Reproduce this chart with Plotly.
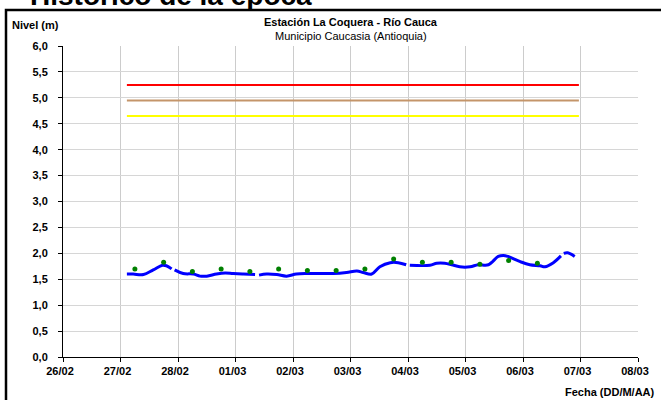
import plotly.graph_objects as go

# nivel observado (m); None = hueco en la serie
nivel_fecha = [
    "2011-02-27 02:40", "2011-02-27 05:15", "2011-02-27 09:35", "2011-02-27 13:40",
    "2011-02-27 17:30", "2011-02-27 19:10", "2011-02-27 21:20", None,
    "2011-02-27 22:35", "2011-02-28 02:10", "2011-02-28 06:30", "2011-02-28 09:10",
    "2011-02-28 12:00", "2011-02-28 16:05", "2011-02-28 19:40", "2011-02-28 23:00",
    "2011-03-01 03:20", "2011-03-01 08:10", None,
    "2011-03-01 09:50", "2011-03-01 13:00", "2011-03-01 17:15", "2011-03-01 21:20",
    "2011-03-02 01:25", "2011-03-02 05:45", "2011-03-02 11:15", "2011-03-02 16:50",
    "2011-03-02 22:20", "2011-03-03 02:40", "2011-03-03 05:20", "2011-03-03 08:50",
    "2011-03-03 12:15", "2011-03-03 16:35", "2011-03-03 19:55", "2011-03-03 23:15", None,
    "2011-03-04 00:45", "2011-03-04 09:10", "2011-03-04 12:00", "2011-03-04 15:20",
    "2011-03-04 18:15", "2011-03-04 21:35", "2011-03-05 01:55", "2011-03-05 05:15",
    "2011-03-05 09:35", "2011-03-05 13:40", "2011-03-05 15:50", "2011-03-05 17:45",
    "2011-03-05 22:50", "2011-03-06 02:50", "2011-03-06 07:10", "2011-03-06 09:10",
    "2011-03-06 12:40", "2011-03-06 15:50", None,
    "2011-03-06 17:00", "2011-03-06 18:40", "2011-03-06 21:35",
]
nivel_valor = [
    1.60, 1.60, 1.59, 1.68, 1.77, 1.76, 1.70, None,
    1.68, 1.61, 1.60, 1.56, 1.56, 1.60, 1.62, 1.61, 1.60, 1.59, None,
    1.58, 1.60, 1.59, 1.56, 1.60, 1.61, 1.61, 1.61, 1.63, 1.66, 1.63, 1.60,
    1.74, 1.82, 1.82, 1.78, None,
    1.77, 1.77, 1.81, 1.81, 1.78, 1.74, 1.74, 1.78, 1.78, 1.94, 1.96, 1.94,
    1.84, 1.78, 1.76, 1.74, 1.82, 1.95, None,
    2.00, 2.01, 1.94,
]

# puntos verdes (06:00 y 18:00)
punto_fecha = [
    "2011-02-27 06:00", "2011-02-27 18:00", "2011-02-28 06:00", "2011-02-28 18:00",
    "2011-03-01 06:00", "2011-03-01 18:00", "2011-03-02 06:00", "2011-03-02 18:00",
    "2011-03-03 06:00", "2011-03-03 18:00", "2011-03-04 06:00", "2011-03-04 18:00",
    "2011-03-05 06:00", "2011-03-05 18:00", "2011-03-06 06:00",
]
punto_valor = [1.70, 1.83, 1.65, 1.70, 1.65, 1.70, 1.67, 1.67, 1.70,
               1.89, 1.83, 1.83, 1.79, 1.86, 1.81]

# umbrales
umbral_fecha = ["2011-02-27 02:40", "2011-03-06 23:20"]
umbral_rojo = 5.25
umbral_naranja = 4.95
umbral_amarillo = 4.65

tick_fechas = ["2011-02-26", "2011-02-27", "2011-02-28", "2011-03-01", "2011-03-02",
               "2011-03-03", "2011-03-04", "2011-03-05", "2011-03-06", "2011-03-07",
               "2011-03-08"]
tick_textos = ["26/02", "27/02", "28/02", "01/03", "02/03", "03/03", "04/03",
               "05/03", "06/03", "07/03", "08/03"]

fig = go.Figure()
for val, col in [(umbral_rojo, "#FF0000"), (umbral_naranja, "#C4956A"),
                 (umbral_amarillo, "#FFFF00")]:
    fig.add_trace(go.Scatter(x=umbral_fecha, y=[val, val], mode="lines",
                             line=dict(color=col, width=2), hoverinfo="skip"))
fig.add_trace(go.Scatter(x=nivel_fecha, y=nivel_valor, mode="lines",
                         line=dict(color="#0000FF", width=3, shape="spline"),
                         connectgaps=False))
fig.add_trace(go.Scatter(x=punto_fecha, y=punto_valor, mode="markers",
                         marker=dict(color="#008000", size=5)))

L, R, T, B = 63, 638, 46, 357
W, H = 661, 400
def px(x):
    return (x - L) / (R - L)
def py(y):
    return (B - y) / (B - T)

fig.update_layout(
    width=W, height=H,
    margin=dict(l=L, r=W - R, t=T, b=H - B),
    paper_bgcolor="white", plot_bgcolor="white",
    showlegend=False,
    separators=",.",
    font=dict(family="Liberation Sans, Arial", size=11, color="black"),
)
fig.update_xaxes(
    type="date", range=["2011-02-26", "2011-03-08"],
    tickvals=tick_fechas, ticktext=tick_textos,
    tickfont=dict(size=11, weight="bold"),
    showgrid=True, gridcolor="#cccccc", gridwidth=1,
    showline=True, linecolor="black", linewidth=1,
    ticks="outside", ticklen=4, tickcolor="black",
    ticklabelshift=-3, zeroline=False,
)
fig.update_yaxes(
    range=[0, 6], dtick=0.5, tickformat=".1f",
    tickfont=dict(size=11, weight="bold"),
    showgrid=True, gridcolor="#d6d6d6", gridwidth=1,
    showline=True, linecolor="black", linewidth=1,
    ticks="outside", ticklen=4, tickcolor="black",
    ticklabelstandoff=8, zeroline=False,
)

anns = [
    dict(text="<b>Estación La Coquera - Río Cauca</b>", x=0.5, y=py(22),
         xanchor="center", yanchor="middle", font=dict(size=11)),
    dict(text="Municipio Caucasia (Antioquia)", x=0.5, y=py(36),
         xanchor="center", yanchor="middle", font=dict(size=11)),
    dict(text="<b>Nivel (m)</b>", x=px(10), y=py(25),
         xanchor="left", yanchor="middle", font=dict(size=11)),
    dict(text="<b>Fecha (DD/M/AA)</b>", x=px(657), y=py(392),
         xanchor="right", yanchor="middle", font=dict(size=11)),
    # encabezado del documento, recortado en el borde superior
    dict(text="<b>Histórico de la época</b>", x=px(28), y=py(13),
         xanchor="left", yanchor="bottom", font=dict(size=28)),
]
for a in anns:
    fig.add_annotation(xref="paper", yref="paper", showarrow=False, **a)

# marco negro del recuadro
fig.add_shape(type="rect", xref="paper", yref="paper",
              x0=px(6), x1=px(720), y0=py(460), y1=py(10),
              line=dict(color="black", width=2.5), fillcolor="rgba(0,0,0,0)",
              layer="above")

fig.write_html("out.html", config={"displayModeBar": False},
               post_script="document.body.style.margin='0';")
